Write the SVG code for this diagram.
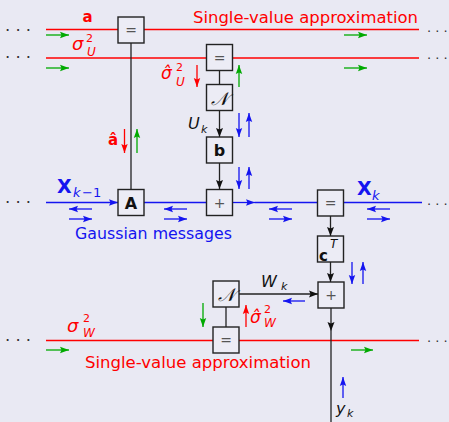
<svg xmlns="http://www.w3.org/2000/svg" width="449" height="422" viewBox="0 0 449 422">
<defs>
<marker id="ak" markerUnits="userSpaceOnUse" markerWidth="10" markerHeight="8" refX="9" refY="4" orient="auto"><path d="M0,0.5 L9,4 L0,7.5 L1.5,4 z" fill="#111"/></marker>
<marker id="ab" markerUnits="userSpaceOnUse" markerWidth="10" markerHeight="8" refX="9" refY="4" orient="auto"><path d="M0,0.8 L9,4 L0,7.2 L1.5,4 z" fill="#1414f0"/></marker>
<marker id="ar" markerUnits="userSpaceOnUse" markerWidth="10" markerHeight="8" refX="9" refY="4" orient="auto"><path d="M0,0.8 L9,4 L0,7.2 L1.5,4 z" fill="#ff0000"/></marker>
<marker id="ag" markerUnits="userSpaceOnUse" markerWidth="10" markerHeight="8" refX="9" refY="4" orient="auto"><path d="M0,0.8 L9,4 L0,7.2 L1.5,4 z" fill="#00aa00"/></marker>
</defs>
<style>
.box{fill:#ececf5;stroke:#222;stroke-width:1.4}
.ln{stroke:#222;stroke-width:1.3;fill:none}
.r{stroke:#ff0000;stroke-width:1.3;fill:none}
.g{stroke:#00aa00;stroke-width:1.3;fill:none}
.b{stroke:#1414f0;stroke-width:1.3;fill:none}
.sg{marker-end:url(#ag)}
.sr{marker-end:url(#ar)}
.sb{marker-end:url(#ab)}
.sk{marker-end:url(#ak)}
text{font-family:"DejaVu Sans","Liberation Sans",sans-serif}
.op{fill:#555;font-size:14px;text-anchor:middle}
.bold{font-weight:bold;text-anchor:middle;fill:#111}
.it{font-style:italic}
.red{fill:#ff0000}
.blue{fill:#1414f0}
.blk{fill:#111}
.dots{fill:#333;font-size:16.5px}
.dotsr{fill:#333;font-size:13px}
.cal{font-family:"DejaVu Serif","Liberation Serif",serif;font-size:18px;font-style:italic;fill:#111;text-anchor:middle}
</style>
<rect width="449" height="422" fill="#e9e9f3"/>

<g id="connectors">
  <path class="r" d="M46,29.5 H419"/>
  <path class="r" d="M46,58 H419"/>
  <path class="r" d="M46,340.5 H419"/>
  <path class="b sb" d="M46,202.5 H118"/>
  <path class="b" d="M144,202.5 H206"/>
  <path class="b sb" d="M232,202.5 H255"/>
  <path class="b" d="M255,202.5 H317"/>
  <path class="b" d="M344,202.5 H422"/>
  <path class="ln" d="M131,43 V189"/>
  <path class="ln" d="M219.5,71 V84"/>
  <path class="ln sk" d="M219.5,111 V137"/>
  <path class="ln sk" d="M219.5,163 V189"/>
  <path class="ln sk" d="M330.5,216 V236"/>
  <path class="ln sk" d="M330.5,262 V282"/>
  <path class="ln sk" d="M239,294 H318"/>
  <path class="ln" d="M226,307 V327"/>
  <path class="ln sk" d="M331,308 V331"/>
  <path class="ln" d="M331,331 V422"/>

  <path class="g sg" d="M46,35 H69"/>
  <path class="g sg" d="M344,35 H367"/>
  <path class="g sg" d="M46,68 H69"/>
  <path class="g sg" d="M344,68 H367"/>
  <path class="g sg" d="M239,87 V65"/>
  <path class="g sg" d="M137,153 V129"/>
  <path class="g sg" d="M203,303 V327"/>
  <path class="g sg" d="M46,350 H69"/>
  <path class="g sg" d="M351,350 H373"/>
  <path class="r sr" d="M124.5,129 V153"/>
  <path class="r sr" d="M197,65 V87"/>
  <path class="r sr" d="M246,327 V305"/>
  <path class="b sb" d="M239,113 V137"/>
  <path class="b sb" d="M249,137 V113"/>
  <path class="b sb" d="M239,167 V189"/>
  <path class="b sb" d="M249,189 V167"/>
  <path class="b sb" d="M352,262 V284"/>
  <path class="b sb" d="M363,284 V262"/>
  <path class="b sb" d="M305,301 H283"/>
  <path class="b sb" d="M343,398 V377"/>
  <path class="b sb" d="M92,209 H69"/>
  <path class="b sb" d="M69,219 H92"/>
  <path class="b sb" d="M187,209 H164"/>
  <path class="b sb" d="M164,219 H187"/>
  <path class="b sb" d="M292,209 H269"/>
  <path class="b sb" d="M269,219 H292"/>
  <path class="b sb" d="M390,209 H367"/>
  <path class="b sb" d="M367,219 H390"/>
</g>

<g id="eq-a">
  <rect class="box" x="118" y="17" width="26" height="26"/>
  <text class="op" x="131" y="35">=</text>
</g>
<g id="eq-u">
  <rect class="box" x="206.5" y="44.5" width="26" height="26"/>
  <text class="op" x="219.5" y="62.5">=</text>
</g>
<g id="gauss-u">
  <rect class="box" x="206.5" y="84.5" width="26" height="26"/>
  <text class="cal" x="219.5" y="104.5">𝒩</text>
</g>
<g id="b-box">
  <rect class="box" x="206.5" y="137" width="26" height="26"/>
  <text class="bold" x="219.5" y="156" font-size="16">b</text>
</g>
<g id="A-box">
  <rect class="box" x="118" y="189.5" width="26" height="26"/>
  <text class="bold" x="131" y="208.5" font-size="16">A</text>
</g>
<g id="plus-x">
  <rect class="box" x="206.5" y="189.5" width="26" height="26"/>
  <text class="op" x="219.5" y="207.5">+</text>
</g>
<g id="eq-x">
  <rect class="box" x="317.5" y="190" width="26" height="26"/>
  <text class="op" x="330.5" y="208">=</text>
</g>
<g id="cT-box">
  <rect class="box" x="317.5" y="236" width="26" height="26"/>
  <text x="319" y="261" font-size="15" font-weight="bold" fill="#111">c</text>
  <text x="330" y="248" font-size="12" font-style="italic" fill="#111">T</text>
</g>
<g id="plus-y">
  <rect class="box" x="318" y="282" width="26" height="26"/>
  <text class="op" x="331" y="300">+</text>
</g>
<g id="gauss-w">
  <rect class="box" x="213" y="281" width="26" height="26"/>
  <text class="cal" x="226" y="301">𝒩</text>
</g>
<g id="eq-w">
  <rect class="box" x="213" y="327" width="26" height="26"/>
  <text class="op" x="226" y="345">=</text>
</g>

<g id="labels">
  <text class="dots" x="4.9" y="36">· · ·</text>
  <text class="dots" x="4.9" y="63">· · ·</text>
  <text class="dots" x="4.9" y="208">· · ·</text>
  <text class="dots" x="4.9" y="346">· · ·</text>
  <text class="dotsr" x="427" y="36">· · ·</text>
  <text class="dotsr" x="427" y="63">· · ·</text>
  <text class="dotsr" x="427" y="209">· · ·</text>
  <text class="dotsr" x="427" y="346">· · ·</text>

  <text class="red" x="193" y="23" font-size="15" textLength="225" lengthAdjust="spacingAndGlyphs">Single-value approximation</text>
  <text class="red" x="85" y="368" font-size="15" textLength="226" lengthAdjust="spacingAndGlyphs">Single-value approximation</text>
  <text class="blue" x="75" y="239" font-size="15" textLength="157" lengthAdjust="spacingAndGlyphs">Gaussian messages</text>

  <text class="red" x="87.5" y="22" font-size="15" font-weight="bold" text-anchor="middle">a</text>
  <text class="red it" x="72" y="50" font-size="18">σ</text>
  <text class="red" x="86" y="42" font-size="11">2</text>
  <text class="red it" x="87" y="56" font-size="12">U</text>

  <text class="red it" x="161" y="79" font-size="17">σ̂</text>
  <text class="red" x="176" y="71" font-size="11">2</text>
  <text class="red it" x="176" y="86" font-size="12">U</text>

  <text class="red" x="113" y="145" font-size="15" font-weight="bold" text-anchor="middle">â</text>

  <text class="blk it" x="188" y="129" font-size="16">U</text>
  <text class="blk it" x="201" y="133" font-size="11">k</text>

  <text class="blue" x="57" y="193" font-size="19" font-weight="bold">X</text>
  <text class="blue it" x="73" y="197" font-size="13">k</text>
  <text class="blue" x="82" y="197" font-size="13">−1</text>

  <text class="blue" x="357" y="195" font-size="19" font-weight="bold">X</text>
  <text class="blue it" x="372" y="200" font-size="13">k</text>

  <text class="blk it" x="261" y="287" font-size="16">W</text>
  <text class="blk it" x="281" y="290" font-size="11">k</text>

  <text class="red it" x="250" y="323" font-size="17">σ̂</text>
  <text class="red" x="264" y="313" font-size="11">2</text>
  <text class="red it" x="264" y="327" font-size="12">W</text>

  <text class="red it" x="67" y="332" font-size="18">σ</text>
  <text class="red" x="83" y="322" font-size="11">2</text>
  <text class="red it" x="83" y="337" font-size="12">W</text>

  <text class="blk it" x="336" y="414" font-size="16">y</text>
  <text class="blk it" x="347" y="417" font-size="11">k</text>
</g>
</svg>
